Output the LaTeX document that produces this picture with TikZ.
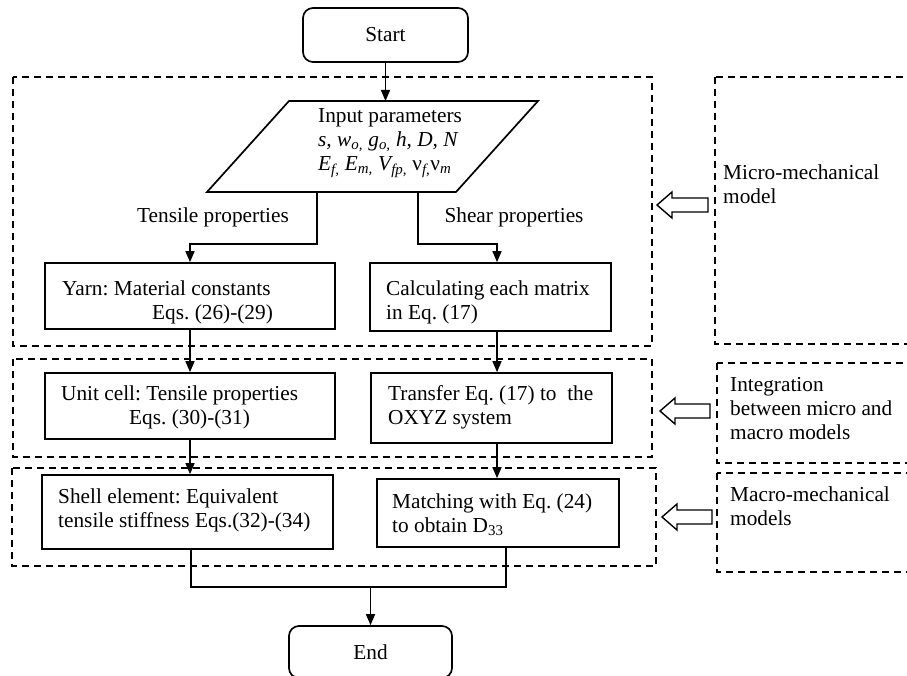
\documentclass[tikz,border=0pt]{standalone}
\usepackage{fontspec}
\setmainfont{Liberation Serif}
\usetikzlibrary{arrows.meta}
\frenchspacing
\begin{document}
\begin{tikzpicture}[x=1pt,y=-1pt,
  font=\fontsize{21.3}{24}\selectfont,
  box/.style={draw, line width=1.7pt, inner sep=0pt},
  term/.style={box, rounded corners=10pt},
  txt/.style={inner sep=0pt, align=left, anchor=west},
  arr/.style={line width=1.4pt, -{Triangle[length=11pt,width=9pt]}},
  ln/.style={line width=1.4pt},
  dbox/.style={line width=1.5pt, dash pattern=on 7pt off 5pt},
  hollow/.style={line width=1.4pt, fill=white}]
\useasboundingbox (0,0) rectangle (907,676);

% group frames
\draw[dbox] (13,77) rectangle (652,346);
\draw[dbox] (13,359) rectangle (652,457);
\draw[dbox] (12,468) rectangle (656,566);
\draw[dbox] (715,77) rectangle (920,344);
\draw[dbox] (717,363) rectangle (920,463);
\draw[dbox] (717,473) rectangle (920,572);

% start / end
\node[term, minimum width=165pt, minimum height=54pt] (start) at (385.5,35) {Start};
\node[term, minimum width=163pt, minimum height=52pt] (end) at (370.5,652) {End};

% input parallelogram
\coordinate (pTL) at (289,101);
\coordinate (pTR) at (538,101);
\coordinate (pBR) at (456,192);
\coordinate (pBL) at (207,192);
\draw[line width=1.7pt] (pTL) -- (pTR) -- (pBR) -- (pBL) -- cycle;
\node[txt] (input) at (318,143) {Input parameters\\
  {\itshape s, w\textsubscript{o,} g\textsubscript{o,} h, D, N}\\
  {\itshape E\textsubscript{f,} E\textsubscript{m,} V\textsubscript{fp,} {\upshape ν}\textsubscript{f,}{\upshape ν}\textsubscript{m}}};
\coordinate (bl) at (317,192);
\coordinate (br) at (418,192);

% process boxes
\node[box, minimum width=290pt, minimum height=66pt] (yarn) at (190,296) {};
\node[txt] (yarnt) at (62,302) {Yarn: Material constants\\\hspace{90pt}Eqs. (26)-(29)};
\node[box, minimum width=241pt, minimum height=68pt] (calc) at (490.5,297) {};
\node[txt] (calct) at (386,302) {Calculating each matrix\\in Eq. (17)};

\node[box, minimum width=290pt, minimum height=66pt] (unit) at (190,406) {};
\node[txt] (unitt) at (61,407) {Unit cell: Tensile properties\\\hspace{68pt}Eqs. (30)-(31)};
\node[box, minimum width=241pt, minimum height=70pt] (trans) at (491.5,408) {};
\node[txt] (transt) at (388,407) {Transfer Eq. (17) to\ \ the\\OXYZ system};

\node[box, minimum width=291pt, minimum height=74pt] (shell) at (187.5,512) {};
\node[txt] (shellt) at (58,510) {Shell element: Equivalent\\tensile stiffness Eqs.(32)-(34)};
\node[box, minimum width=242pt, minimum height=68pt] (match) at (498,513) {};
\node[txt] (matcht) at (392,515) {Matching with Eq. (24)\\to obtain D\textsubscript{33}};

% branch labels
\node (tens) at (213,217) {Tensile properties};
\node (shear) at (514,217) {Shear properties};

% side labels
\node[txt] (micro) at (723,184) {Micro-mechanical\\model};
\node[txt] (integ) at (730,409) {Integration\\between micro and\\macro models};
\node[txt] (macro) at (730,506) {Macro-mechanical\\models};

% connectors
\draw[arr] (start.south) -- (start.south |- pTL);
\draw[arr] (bl) -- (317,244) -| (yarn.north);
\draw[arr] (br) -- (418,244) -| ([xshift=6.5pt]calc.north);
\draw[arr] (yarn.south) -- (unit.north);
\draw[arr] ([xshift=6.5pt]calc.south) -- ([xshift=5.5pt]trans.north);
\draw[arr] (unit.south) -- ([xshift=2.5pt]shell.north);
\draw[arr] ([xshift=5.5pt]trans.south) -- ([xshift=-1pt]match.north);
\coordinate (join) at (end.north |- 0,587);
\draw[ln] ([xshift=3.5pt]shell.south) -- ([xshift=3.5pt]shell.south |- join) -- ([xshift=8pt]match.south |- join) -- ([xshift=8pt]match.south);
\draw[arr] (join) -- (end.north);

% hollow arrows
\foreach \tx/\ty/\ex in {657/205/708, 660/411/710, 662/517/712}{
  \draw[hollow] (\tx,\ty) -- ++(15,-13) -- ++(0,6) -- (\ex,\ty-7) -- (\ex,\ty+7) -- (\tx+15,\ty+7) -- ++(0,6) -- cycle;
}
\end{tikzpicture}
\end{document}
